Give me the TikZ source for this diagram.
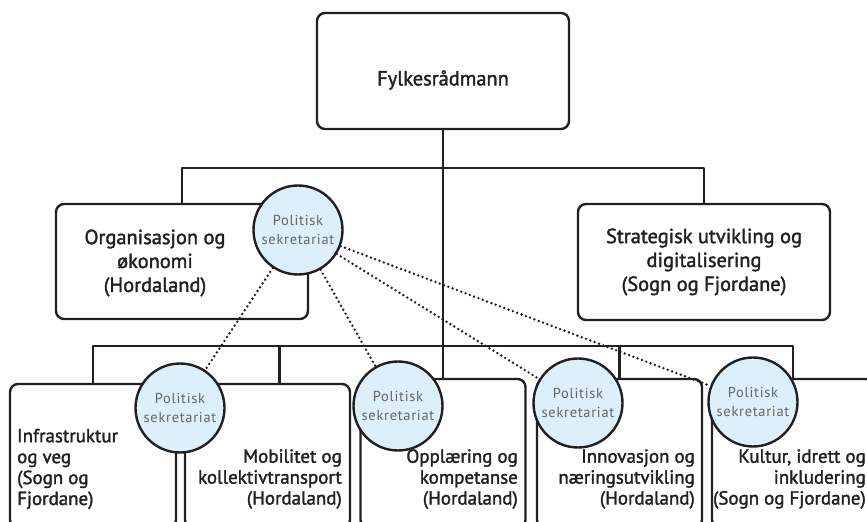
\documentclass[tikz,border=0pt]{standalone}
\usepackage{fontspec}
\setmainfont{PT Sans}
\newfontfamily\boxfont{PT Sans}[FakeBold=1.7]
\newfontfamily\sekrfont{PT Sans}[LetterSpace=5]
\definecolor{sekrblue}{HTML}{DCEFFA}
\definecolor{ink}{HTML}{231F20}
\begin{document}
\begin{tikzpicture}[>=latex,line join=bevel,
  unit/.style={draw=ink,line width=2.4bp,rounded corners=8bp,inner sep=0pt},
  sekr/.style={circle,draw=ink,line width=2.4bp,fill=sekrblue,minimum size=89bp,inner sep=0pt,
    align=center,font=\sekrfont\fontsize{14.5}{20}\selectfont,text=black!60},
  bigtxt/.style={inner sep=0pt,text=ink,font=\boxfont\fontsize{20.5}{24}\selectfont},
  smalltxt/.style={inner sep=0pt,text=ink,font=\boxfont\fontsize{19}{21}\selectfont},
  link/.style={ink,line width=2.4bp},
  dots/.style={ink,line width=2.7bp,line cap=round,dash pattern=on 0bp off 4.6bp},
]
\useasboundingbox (0bp,0bp) rectangle (867bp,522bp);
%% boxes
\node (node_radmann) at (443bp,451bp) [unit,minimum width=252bp,minimum height=116bp] {};
\node (node_org) at (182bp,260.5bp) [unit,minimum width=252bp,minimum height=115bp] {};
\node (node_strat) at (704bp,260bp) [unit,minimum width=252bp,minimum height=116bp,bigtxt,align=center] {Strategisk utvikling og\\digitalisering\\(Sogn og Fjordane)};
\node (node_infra) at (93bp,66bp) [unit,minimum width=166bp,minimum height=144bp] {};
\node (node_mob) at (267.5bp,66bp) [unit,minimum width=165bp,minimum height=144bp] {};
\node (node_opp) at (443bp,68.5bp) [unit,minimum width=165bp,minimum height=149bp] {};
\node (node_inn) at (619.5bp,68.5bp) [unit,minimum width=165bp,minimum height=149bp] {};
\node (node_kul) at (793bp,68.5bp) [unit,minimum width=162bp,minimum height=149bp] {};
%% texts
\node (txt_radmann) at (443bp,442bp) [bigtxt] {Fylkesrådmann};
\node (txt_org) at (155bp,259bp) [bigtxt,align=center] {Organisasjon og\\økonomi\\(Hordaland)};
\node (txt_infra) at (17bp,53bp) [smalltxt,anchor=west,align=left] {Infrastruktur\\og veg\\(Sogn og\\Fjordane)};
\node (txt_mob) at (342bp,43bp) [smalltxt,anchor=east,align=right] {Mobilitet og\\kollektivtransport\\(Hordaland)};
\node (txt_opp) at (518bp,43bp) [smalltxt,anchor=east,align=right] {Opplæring og\\kompetanse\\(Hordaland)};
\node (txt_inn) at (695bp,43bp) [smalltxt,anchor=east,align=right] {Innovasjon og\\næringsutvikling\\(Hordaland)};
\node (txt_kul) at (866bp,43bp) [smalltxt,anchor=east,align=right] {Kultur, idrett og\\inkludering\\(Sogn og Fjordane)};
%% lines
\coordinate (bar_top) at (443bp,354bp);
\coordinate (bar_low) at (443bp,176bp);
\draw [link] (node_radmann) -- (node_opp);
\draw [link] (node_org.north) |- (bar_top) -| (node_strat.north);
\draw [link] (node_infra.north) |- (bar_low) -| (node_kul.north);
\draw [link] ([xshift=12bp]node_mob.north) -- ([xshift=12bp]node_mob.north |- bar_low);
\draw [link] (node_inn.north) -- (node_inn.north |- bar_low);
%% politisk sekretariat
\node (c_org) at (298bp,292bp) [sekr] {Politisk\\sekretariat};
\node (c_mob) at (180bp,114bp) [sekr] {Politisk\\sekretariat};
\node (c_opp) at (398bp,116bp) [sekr] {Politisk\\sekretariat};
\node (c_inn) at (578bp,119bp) [sekr] {Politisk\\sekretariat};
\node (c_kul) at (753bp,120bp) [sekr] {Politisk\\sekretariat};
\foreach \c in {c_mob,c_opp,c_inn,c_kul}
  \draw [dots] (c_org) -- (\c);
%
\end{tikzpicture}
\end{document}
